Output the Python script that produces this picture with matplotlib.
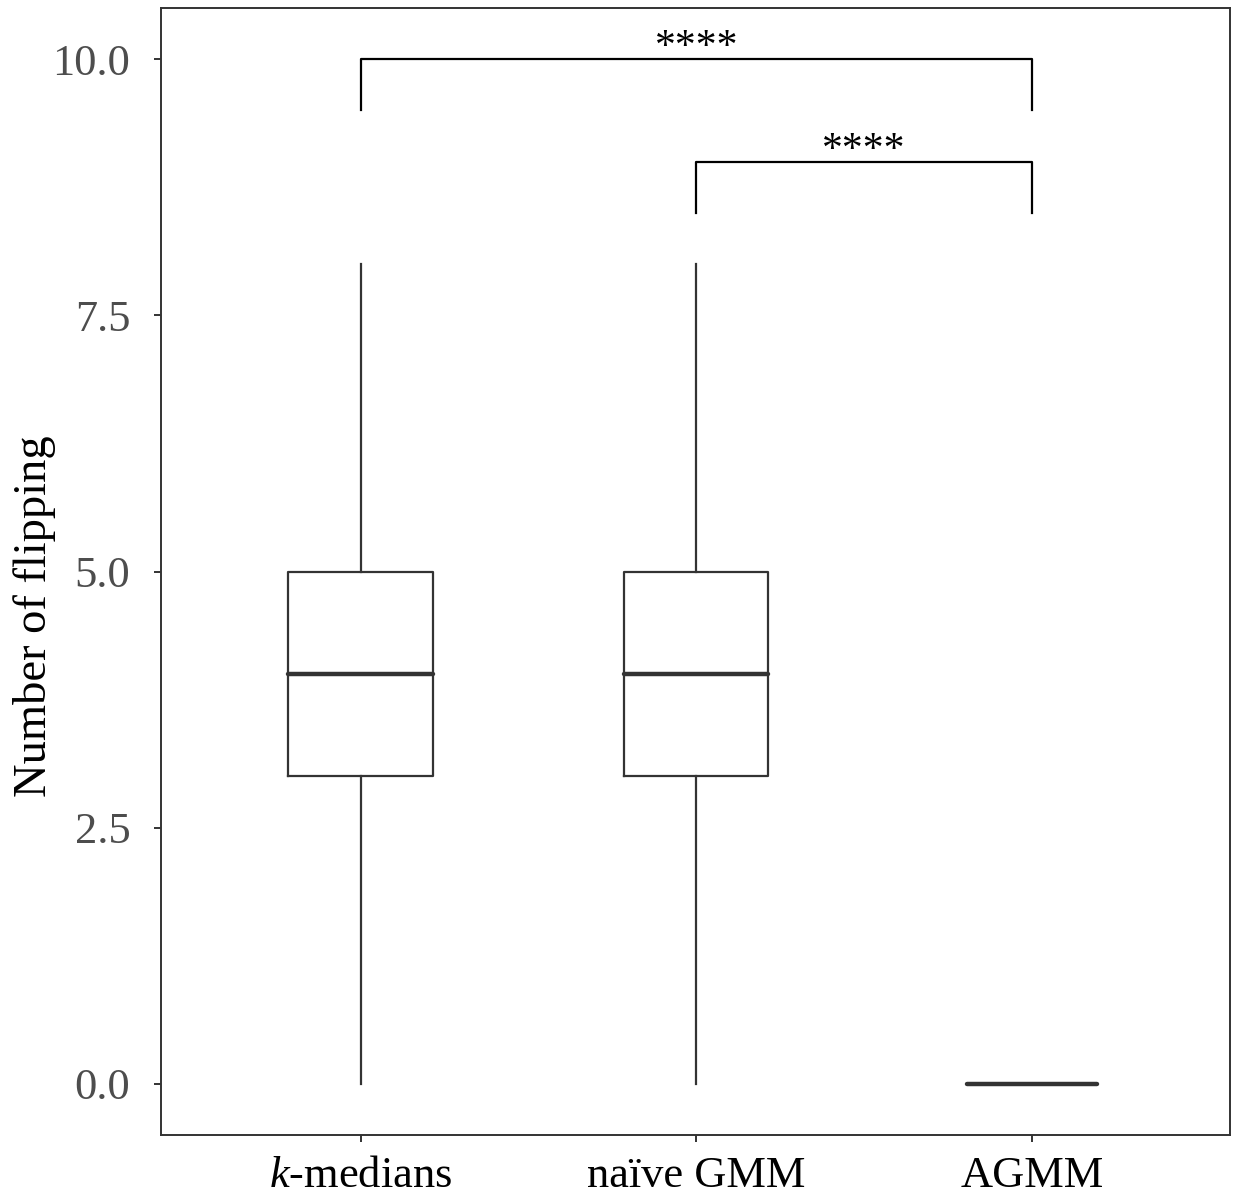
import numpy as np
import matplotlib
matplotlib.use("Agg")
from matplotlib import pyplot as plt

plt.rcParams['font.family'] = ['Liberation Serif', 'DejaVu Serif']
plt.rcParams['mathtext.fontset'] = 'custom'
plt.rcParams['mathtext.it'] = 'Liberation Serif:italic'
plt.rcParams['mathtext.rm'] = 'Liberation Serif'

# categorias y resumen de cada caja
methods = ['$k$-medians', 'naïve GMM', 'AGMM']
whisker_low = [0, 0, 0]
q1 = [3, 3, 0]
medians = [4, 4, 0]
q3 = [5, 5, 0]
whisker_high = [8, 8, 0]
box_widths = [0.43, 0.43, 0.385]

# comparaciones significativas (grupo a, grupo b, altura, etiqueta)
comparisons = [(1, 3, 10.0, '****'), (2, 3, 9.0, '****')]

grey = '#333333'

fig = plt.figure(figsize=(12.39, 11.98), dpi=100)
ax = fig.add_axes([0.1299, 0.0526, 0.8628, 0.9407])

stats = []
for i in range(len(methods)):
    stats.append({'whislo': whisker_low[i], 'q1': q1[i], 'med': medians[i],
                  'q3': q3[i], 'whishi': whisker_high[i], 'fliers': []})

ax.bxp(stats, positions=[1, 2, 3], widths=box_widths, showcaps=False,
       boxprops=dict(color=grey, linewidth=1.6),
       whiskerprops=dict(color=grey, linewidth=1.6),
       medianprops=dict(color=grey, linewidth=3.2, solid_capstyle='round'))

# corchetes de significancia
for a, b, h, lab in comparisons:
    drop = 0.5
    ax.plot([a, a, b, b], [h - drop, h, h, h - drop], color='black', lw=1.6)
    ax.text((a + b) / 2, h + 0.01, lab, ha='center', va='baseline',
            fontsize=30, color='black')

ax.set_xlim(0.405, 3.59)
ax.set_ylim(-0.5, 10.5)
ax.set_yticks([0, 2.5, 5, 7.5, 10])
ax.set_yticklabels(['0.0', '2.5', '5.0', '7.5', '10.0'])
ax.set_xticks([1, 2, 3])
ax.set_xticklabels(methods)
ax.tick_params(axis='both', labelsize=32, labelcolor='#4d4d4d', color=grey,
               length=5, width=1.4)
ax.tick_params(axis='y', pad=17)
ax.tick_params(axis='x', labelcolor='black', pad=10)
ax.set_ylabel('Number of flipping', fontsize=33.5)
ax.yaxis.set_label_coords(-0.098, 0.46)

for s in ax.spines.values():
    s.set_color(grey)
    s.set_linewidth(1.4)

fig.savefig('out.png', dpi=100)
